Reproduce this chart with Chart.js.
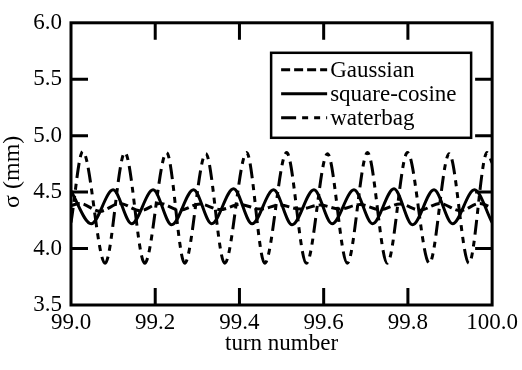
<!DOCTYPE html>
<html><head><meta charset="utf-8">
<script src="https://cdn.jsdelivr.net/npm/chart.js@4.4.1/dist/chart.umd.min.js"></script>
<style>html,body{margin:0;padding:0;background:#fff}canvas{display:block}
#fontwarm{position:absolute;left:-1000px;top:0;font:23px "Liberation Serif";}</style>
</head><body>
<div id="fontwarm">99.0 turn number σ (mm) Gaussian</div>
<canvas id="c" width="522" height="370"></canvas>
<script>
// ---- data ----
const xTicks = [99.0, 99.2, 99.4, 99.6, 99.8, 100.0];
const yTicks = [3.5, 4.0, 4.5, 5.0, 5.5, 6.0];
const seriesNames = ['Gaussian', 'square-cosine', 'waterbag'];
const xTitle = 'turn number';
const yTitle = 'σ (mm)';

const gaussX = [99.000, 99.021, 99.069, 99.116, 99.164, 99.211, 99.259, 99.306, 99.354, 99.401, 99.449, 99.496,
                99.544, 99.591, 99.639, 99.686, 99.734, 99.781, 99.829, 99.876, 99.924, 99.971, 100.000];
const gaussY = [4.38, 4.40, 4.33, 4.40, 4.335, 4.40, 4.34, 4.395, 4.345, 4.39, 4.35, 4.385,
                4.35, 4.385, 4.35, 4.39, 4.345, 4.395, 4.34, 4.40, 4.335, 4.40, 4.36];

const cosX = [99.000, 99.048, 99.100, 99.144, 99.195, 99.239, 99.291, 99.334, 99.386, 99.430, 99.481,
              99.525, 99.577, 99.620, 99.672, 99.716, 99.767, 99.811, 99.862, 99.906, 99.958, 100.000];
const cosY = [4.51, 4.22, 4.52, 4.22, 4.52, 4.21, 4.52, 4.22, 4.53, 4.22, 4.52,
              4.21, 4.52, 4.22, 4.52, 4.22, 4.53, 4.21, 4.52, 4.22, 4.52, 4.23];

const wbX = [99.000, 99.028, 99.081, 99.128, 99.175, 99.227, 99.270, 99.320, 99.365, 99.417, 99.460, 99.512,
             99.559, 99.609, 99.656, 99.704, 99.751, 99.799, 99.851, 99.898, 99.945, 99.988, 100.000];
const wbY = [4.23, 4.86, 3.87, 4.85, 3.87, 4.85, 3.87, 4.84, 3.87, 4.85, 3.87, 4.85,
             3.87, 4.84, 3.87, 4.85, 3.87, 4.85, 3.87, 4.84, 3.87, 4.85, 4.76];

const toPts = (xs, ys) => xs.map((x, i) => ({x: x, y: ys[i]}));

const FAMILY = '"Liberation Serif", serif';
const FSIZE = 23;
const mkFont = () => ({family: FAMILY, size: FSIZE});

const whiteBg = {
  id: 'whiteBg',
  beforeDraw(chart) {
    const c = chart.ctx; c.save(); c.fillStyle = '#fff';
    c.fillRect(0, 0, chart.width, chart.height); c.restore();
  }
};

const frame = {
  id: 'frame',
  afterDraw(chart) {
    const c = chart.ctx, a = chart.chartArea;
    const xs = chart.scales.x, ys = chart.scales.y;
    const L = 17;
    c.save();
    c.strokeStyle = '#000'; c.lineWidth = 3; c.setLineDash([]);
    c.beginPath();
    xs.ticks.forEach(t => {
      const p = xs.getPixelForValue(t.value);
      if (Math.abs(p - a.left) < 2 || Math.abs(p - a.right) < 2) return;
      c.moveTo(p, a.bottom); c.lineTo(p, a.bottom - L);
      c.moveTo(p, a.top); c.lineTo(p, a.top + L);
    });
    ys.ticks.forEach(t => {
      const p = ys.getPixelForValue(t.value);
      if (Math.abs(p - a.top) < 2 || Math.abs(p - a.bottom) < 2) return;
      c.moveTo(a.left, p); c.lineTo(a.left + L, p);
      c.moveTo(a.right, p); c.lineTo(a.right - L, p);
    });
    c.stroke();
    c.strokeRect(a.left, a.top, a.right - a.left, a.bottom - a.top);
    // y-axis title, rotated, placed like the reference (slightly above centre)
    c.fillStyle = '#000';
    c.font = '24px ' + FAMILY;
    c.textAlign = 'center'; c.textBaseline = 'middle';
    c.translate(13, ys.getPixelForValue(4.68));
    c.rotate(-Math.PI / 2);
    c.fillText(yTitle, 0, 0);
    c.restore();
  }
};

const boxLegend = {
  id: 'boxLegend',
  afterDraw(chart) {
    const c = chart.ctx, a = chart.chartArea;
    const w = 200, h = 85;
    const left = a.right - 21 - w, top = a.top + 30;
    c.save();
    c.fillStyle = '#fff'; c.fillRect(left, top, w, h);
    c.strokeStyle = '#000'; c.lineWidth = 2.5; c.setLineDash([]);
    c.strokeRect(left, top, w, h);
    chart.data.datasets.forEach((ds, i) => {
      const y = top + 17 + i * 24;
      c.lineWidth = 3;
      c.setLineDash(ds.borderDash || []);
      c.beginPath(); c.moveTo(left + 10, y); c.lineTo(left + 56, y); c.stroke();
      c.setLineDash([]);
      c.fillStyle = '#000';
      c.font = FSIZE + 'px ' + FAMILY;
      c.textBaseline = 'middle'; c.textAlign = 'left';
      c.fillText(ds.label, left + 59, y + 1);
    });
    c.restore();
  }
};

let chart = null;
function build() {
  if (chart) { chart.destroy(); }
  chart = new Chart(document.getElementById('c'), {
    type: 'line',
    data: {
      datasets: [
        {label: seriesNames[0], data: toPts(gaussX, gaussY), borderColor: '#000', borderWidth: 3, borderDash: [9, 4]},
        {label: seriesNames[1], data: toPts(cosX, cosY), borderColor: '#000', borderWidth: 3, borderDash: []},
        {label: seriesNames[2], data: toPts(wbX, wbY), borderColor: '#000', borderWidth: 3, borderDash: [15, 6, 6, 6, 6, 6]}
      ]
    },
    options: {
      responsive: false,
      animation: false,
      devicePixelRatio: 1,
      font: mkFont(),
      layout: {padding: {left: 0, right: 29, top: 13, bottom: 0}},
      elements: {
        point: {radius: 0},
        line: {cubicInterpolationMode: 'monotone', fill: false}
      },
      plugins: {legend: {display: false}, tooltip: {enabled: false}},
      scales: {
        x: {
          type: 'linear', min: xTicks[0], max: xTicks[xTicks.length - 1],
          afterBuildTicks: s => { s.ticks = xTicks.map(v => ({value: v})); },
          afterFit: s => { s.height = 65; },
          grid: {display: false, drawTicks: false},
          border: {display: false},
          ticks: {color: '#000', font: mkFont(), padding: 4, maxRotation: 0, autoSkip: false,
                  callback: v => Number(v).toFixed(1)},
          title: {display: true, text: xTitle, color: '#000', font: mkFont(), padding: {top: 0, bottom: 12}}
        },
        y: {
          type: 'linear', min: yTicks[0], max: yTicks[yTicks.length - 1],
          afterBuildTicks: s => { s.ticks = yTicks.map(v => ({value: v})); },
          afterFit: s => { s.width = 71; },
          grid: {display: false, drawTicks: false},
          border: {display: false},
          ticks: {color: '#000', font: mkFont(), padding: 9, autoSkip: false,
                  callback: v => Number(v).toFixed(1)},
          title: {display: false, text: yTitle}
        }
      }
    },
    plugins: [whiteBg, frame, boxLegend]
  });
}
build();
if (document.fonts && document.fonts.load) {
  document.fonts.load('23px "Liberation Serif"', '99.0 σ').then(() => build()).catch(() => {});
}
</script>
</body></html>
